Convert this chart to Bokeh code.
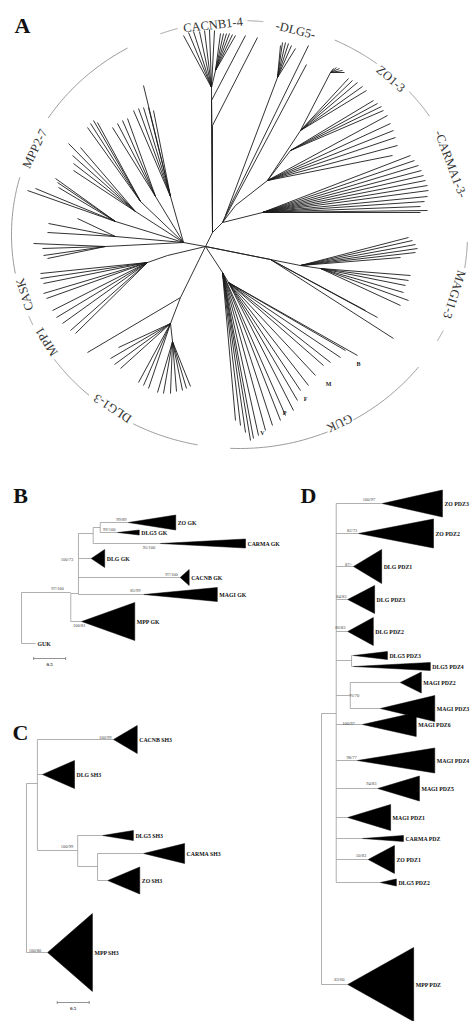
import math
import numpy as np
from bokeh.plotting import figure
from bokeh.models import Range1d
from bokeh.embed import file_html
from bokeh.resources import INLINE
from bokeh.core.properties import value

# ================= DATA =================
# ---- Panel A: unrooted tree, node / tip coordinates in tree-layout units (root = 0,0, y up)
A_node_name = ["root", "stem", "cac", "cac2", "cacs1", "cacs2", "n2", "dlg5a", "dlg5b", "dlg5",
               "zo0", "zo1", "zo2", "zo3", "zoc", "carma", "magi0", "magi1", "magi2",
               "guk0", "guk1", "dlg0", "dlg1", "dlg2", "mpp1", "mpp1b", "mpp0",
               "mppA", "mppB", "mppC", "mppD", "mppE", "mppF", "mppG"]
A_node_parent = [None, "root", "stem", "cac", "stem", "stem", "stem", "n2", "n2", "dlg5a",
                 "n2", "zo0", "zo1", "zo2", "zo1", "n2", "root", "magi0", "root",
                 "root", "guk0", "root", "dlg0", "dlg1", "root", "mpp1", "root",
                 "mpp0", "mpp0", "mpp0", "mpp0", "mpp0", "mpp0", "mpp0"]
A_node_x = [0, 7, 6, 10, 6, 7, 17, 20, 25, 72,
            30, 62, 95, 125, 85, 57, 95, 115, 65,
            17, 23, -25, -35, -33, -38, -58, -22,
            -35, -50, -65, -70, -90, -90, -100]
A_node_y = [0, 14, 159, 176, 146, 121, 24, 31, 39, 169,
            41, 66, 116, 174, 96, 34, -19, -22, -13,
            -26, -36, -51, -77, -95, -9, -16, 4,
            50, 50, 45, 35, 25, 10, 0]

tips_cac = [(-22, 211), (-17, 214), (-12, 215), (-6, 215), (-1, 216), (4, 217), (9, 216)]
tips_cac2 = [(15, 213), (18, 213), (21, 213), (24, 213), (27, 212), (30, 211)]
tips_cacs1 = [(40, 211)]
tips_cacs2 = [(52, 209)]
tips_dlg5 = [(75, 201), (77, 204), (80, 204), (83, 203), (86, 201), (90, 198)]
tips_dlg5a = [(103, 201)]
tips_dlg5b = [(101, 182)]
tips_zo3 = [(128, 178), (131, 179), (134, 178), (137, 176), (139, 174)]
tips_zo2 = [(143, 168), (147, 166), (152, 164), (157, 160), (161, 156)]
tips_zoc = [(168, 146), (172, 143), (176, 140), (178, 136)]
tips_zo1 = [(182, 131), (185, 123), (188, 116), (190, 109), (192, 101), (187, 91)]
tips_carma = [(205, 91), (209, 86), (213, 81), (216, 76), (218, 71), (220, 66), (222, 61),
              (223, 56), (222, 50), (219, 45), (215, 40), (222, 36), (215, 34)]
tips_magi0 = [(203, 9), (207, 6), (210, 2), (212, -2), (210, -6), (195, -11)]
tips_magi1 = [(205, -29), (203, -34), (200, -39), (198, -46), (203, -54), (195, -59)]
tips_magi2 = [(188, -92), (172, -71), (160, -64)]
tips_guk1 = [(152, -109), (140, -104), (135, -111), (125, -116), (118, -119), (110, -129),
             (103, -139), (95, -144), (92, -154), (88, -164)]
tips_guk0 = [(80, -169), (75, -174), (67, -179), (60, -184), (53, -189), (48, -192),
             (45, -194), (40, -186), (35, -179), (30, -174)]
tips_dlg0 = [(-118, -106)]
tips_dlg1 = [(-87, -101), (-95, -112), (-91, -118), (-85, -122), (-67, -136), (-62, -139), (-57, -142)]
tips_dlg2 = [(-48, -146), (-42, -147), (-35, -147), (-29, -145), (-23, -144), (-19, -142), (-15, -140)]
tips_mpp1b = [(-165, -27), (-165, -32), (-162, -37), (-162, -47), (-159, -52), (-153, -64),
              (-149, -71), (-143, -77), (-135, -84), (-130, -87)]
tips_mppA = [(-62, 161), (-72, 136), (-67, 138), (-62, 139), (-57, 139), (-52, 136)]
tips_mppB = [(-93, 119), (-88, 123), (-83, 126), (-78, 128)]
tips_mppC = [(-118, 119), (-115, 123), (-112, 126), (-108, 124)]
tips_mppD = [(-137, 103), (-125, 99), (-133, 91), (-132, 83), (-132, 76)]
tips_mppE = [(-150, 68), (-148, 64), (-147, 59), (-178, 56), (-170, 58)]
tips_mppF = [(-128, 28), (-157, 23), (-158, 14)]
tips_mppG = [(-172, 3), (-163, -2), (-162, -9), (-158, -12)]
A_tip_groups = [("cac", tips_cac), ("cac2", tips_cac2), ("cacs1", tips_cacs1), ("cacs2", tips_cacs2),
                ("dlg5", tips_dlg5), ("dlg5a", tips_dlg5a), ("dlg5b", tips_dlg5b),
                ("zo3", tips_zo3), ("zo2", tips_zo2), ("zoc", tips_zoc), ("zo1", tips_zo1),
                ("carma", tips_carma), ("magi0", tips_magi0), ("magi1", tips_magi1), ("magi2", tips_magi2),
                ("guk1", tips_guk1), ("guk0", tips_guk0), ("dlg0", tips_dlg0), ("dlg1", tips_dlg1),
                ("dlg2", tips_dlg2), ("mpp1b", tips_mpp1b), ("mppA", tips_mppA), ("mppB", tips_mppB),
                ("mppC", tips_mppC), ("mppD", tips_mppD), ("mppE", tips_mppE), ("mppF", tips_mppF),
                ("mppG", tips_mppG)]
A_guk_marks = ["B", "M", "F", "P", "V"]
A_guk_mark_x = [153, 123, 100, 79, 57]
A_guk_mark_y = [-117, -137, -152, -166, -186]

A_labels = ["CACNB1-4", "-DLG5-", "ZO1-3", "-CARMA1-3-", "MAGI1-3", "GUK", "DLG1-3", "MPP1", "CASK", "MPP2-7"]
A_label_deg = [96.8, 75.5, 47.5, 19.5, 343.5, 296.5, 235.5, 210.5, 196.5, 156.0]
A_arc_from = [33.6, 53.0, 84.0, 105.8, 119.4, 164.5, 202.5, 215.7, 242.2, 267.7, 300.0, 330.2, 351.0]
A_arc_to = [41.9, 65.3, 88.0, 110.3, 147.0, 190.5, 205.0, 228.7, 259.4, 292.7, 321.7, 333.3, 358.0]

# ---- Panel B: GK domain tree (branch length units)
B_node_id = ["root", "n1", "n2", "n3", "n4"]
B_node_parent = [None, "root", "n1", "n2", "n3"]
B_node_depth = [0.0, 0.77, 0.89, 1.12, 1.23]
B_node_row = [147, 122, 123, 63, 57]
B_leaf = ["ZO GK", "DLG5 GK", "CARMA GK", "DLG GK", "CACNB GK", "MAGI GK", "MPP GK", "GUK"]
B_leaf_parent = ["n4", "n4", "n3", "n2", "n2", "n2", "n1", "root"]
B_leaf_apex = [1.67, 1.50, 2.17, 1.09, 2.48, 1.91, 0.94, 0.22]
B_leaf_tip = [2.41, 1.84, 3.50, 1.30, 2.62, 3.06, 1.77, 0.22]
B_leaf_row = [52, 62, 73, 88, 107, 124, 151, 173]
B_leaf_half = [7.5, 2.5, 4.5, 9, 8, 7, 19, 0]
B_sup = ["99/89", "99/100", "95/100", "97/100", "85/99", "100/81", "97/100", "100/73"]
B_sup_depth = [1.64, 1.47, 2.09, 2.44, 1.86, 1.0, 0.66, 0.81]
B_sup_row = [49, 59, 77, 104, 120, 155, 118, 89]

# ---- Panel C: SH3 domain tree
C_node_id = ["root", "c1", "c2", "c3"]
C_node_parent = [None, "root", "c1", "c2"]
C_node_depth = [0.0, 0.17, 0.80, 1.11]
C_node_row = [160, 83, 150, 166]
C_leaf = ["CACNB SH3", "DLG SH3", "DLG5 SH3", "CARMA SH3", "ZO SH3", "MPP SH3"]
C_leaf_parent = ["c1", "c1", "c2", "c3", "c3", "root"]
C_leaf_apex = [1.36, 0.25, 1.19, 1.83, 1.27, 0.33]
C_leaf_tip = [1.73, 0.75, 1.67, 2.47, 1.77, 1.03]
C_leaf_row = [39, 74, 135, 153, 180, 252]
C_leaf_half = [14, 14, 5, 10, 13.5, 39]
C_sup = ["100/99", "100/99", "100/80"]
C_sup_depth = [1.33, 0.73, 0.23]
C_sup_row = [37, 146, 250]

# ---- Panel D: PDZ domain tree
D_node_id = ["root", "d1", "d2", "d3"]
D_node_parent = [None, "root", "d1", "d1"]
D_node_depth = [0.0, 0.23, 0.47, 0.45]
D_node_row = [380, 243, 190, 225]
D_leaf = ["ZO PDZ3", "ZO PDZ2", "DLG PDZ1", "DLG PDZ3", "DLG PDZ2", "DLG5 PDZ3", "DLG5 PDZ4",
          "MAGI PDZ2", "MAGI PDZ3", "MAGI PDZ6", "MAGI PDZ4", "MAGI PDZ5", "MAGI PDZ1",
          "CARMA PDZ", "ZO PDZ1", "DLG5 PDZ2", "MPP PDZ"]
D_leaf_parent = ["d1", "d1", "d1", "d1", "d1", "d2", "d2", "d3", "d3", "d1", "d1", "d1", "d1",
                 "d1", "d1", "d1", "root"]
D_leaf_apex = [0.95, 0.58, 0.50, 0.41, 0.41, 0.50, 0.50, 1.23, 0.92, 0.64, 0.56, 0.88, 0.41,
               0.64, 0.73, 0.92, 0.41]
D_leaf_tip = [1.89, 1.75, 0.94, 0.83, 0.81, 1.03, 1.70, 1.56, 1.77, 1.48, 1.77, 1.53, 1.08,
              1.28, 1.14, 1.17, 1.44]
D_leaf_row = [33, 63, 96, 129, 161, 185, 196, 212, 238, 254, 290, 318, 347, 368, 389, 412, 514]
D_leaf_half = [13.5, 14.5, 17, 14, 14, 4, 4, 10.5, 13, 12, 12.5, 12.5, 13, 3, 14, 3.5, 37]
D_sup = ["100/97", "82/72", "87/-", "84/83", "86/83", "76/70", "100/97", "98/77", "94/83", "50/83", "83/60"]
D_sup_depth = [0.84, 0.56, 0.48, 0.39, 0.375, 0.59, 0.52, 0.55, 0.86, 0.70, 0.36]
D_sup_row = [29, 60, 94, 126, 157, 225, 253, 287, 313, 385, 509]

# ================= LAYOUT / STYLE =================
W, H = 471, 1021
SERIF = value("Liberation Serif")
p = figure(width=W, height=H, x_range=Range1d(0, W), y_range=Range1d(-H, 0),
           output_backend="svg", toolbar_location=None, min_border=0,
           x_axis_location=None, y_axis_location=None)
p.grid.visible = False
p.outline_line_color = None

# ---- Panel A
AX0, AY0 = 205, 246          # root position on page
ECX, ECY, ERX, ERY = 239, 234, 228, 214   # label ellipse


def ax(v):
    return AX0 + v


def ay(v):
    return v - AY0


node_pos = {n: (x, y) for n, x, y in zip(A_node_name, A_node_x, A_node_y)}
xs, ys = [], []
for n, par in zip(A_node_name, A_node_parent):
    if par is None:
        continue
    (x1, y1), (x0, y0) = node_pos[n], node_pos[par]
    xs.append([ax(x0), ax(x1)])
    ys.append([ay(y0), ay(y1)])
for par, tips in A_tip_groups:
    x0, y0 = node_pos[par]
    for tx, ty in tips:
        xs.append([ax(x0), ax(tx)])
        ys.append([ay(y0), ay(ty)])
p.multi_line(xs, ys, line_color="#1c1c1c", line_width=0.9)

p.text([ax(v) for v in A_guk_mark_x], [ay(v) for v in A_guk_mark_y], text=A_guk_marks,
       text_font=SERIF, text_font_style="bold", text_font_size="6px", text_color="#222",
       text_align="center", text_baseline="middle")

axs, ays = [], []
for t0, t1 in zip(A_arc_from, A_arc_to):
    t = np.radians(np.linspace(t0, t1, 40))
    axs.append(list(ECX + ERX * np.cos(t)))
    ays.append(list(-(ECY - ERY * np.sin(t))))
p.multi_line(axs, ays, line_color="#9a9a9a", line_width=1)

lx, ly, lang = [], [], []
for d in A_label_deg:
    t = math.radians(d)
    lx.append(ECX + (ERX - 4) * math.cos(t))
    ly.append(-(ECY - (ERY - 3) * math.sin(t)))
    lang.append(math.atan2(-ERY * math.cos(t), ERX * math.sin(t)))
p.text(lx, ly, text=A_labels, angle=lang, text_font=SERIF, text_font_size="12.5px",
       text_color="#333", text_align="center", text_baseline="middle")

# ---- Panels B, C, D (rectangular trees with collapsed clades)
SCALE = 64.0
LINE_C = "#9c9c9c"


def draw_tree(x0, y0, node_id, node_parent, node_depth, node_row,
              leaf, leaf_parent, leaf_apex, leaf_tip, leaf_row, leaf_half,
              sup, sup_depth, sup_row):
    X = lambda d: x0 + d * SCALE
    Yr = lambda r: -(y0 + r)
    depth = dict(zip(node_id, node_depth))
    row = dict(zip(node_id, node_row))
    kids = {n: [] for n in node_id}
    hx, hy = [], []
    for n, par in zip(node_id, node_parent):
        if par is None:
            continue
        kids[par].append(row[n])
        hx.append([X(depth[par]), X(depth[n])])
        hy.append([Yr(row[n]), Yr(row[n])])
    for par, a, r in zip(leaf_parent, leaf_apex, leaf_row):
        kids[par].append(r)
        hx.append([X(depth[par]), X(a)])
        hy.append([Yr(r), Yr(r)])
    for n in node_id:
        if kids[n]:
            hx.append([X(depth[n]), X(depth[n])])
            hy.append([Yr(min(kids[n])), Yr(max(kids[n]))])
    p.multi_line(hx, hy, line_color=LINE_C, line_width=0.8)
    px, py = [], []
    for a, t, r, h in zip(leaf_apex, leaf_tip, leaf_row, leaf_half):
        if h > 0:
            px.append([X(a), X(t), X(t)])
            py.append([Yr(r), Yr(r - h), Yr(r + h)])
    p.patches(px, py, fill_color="black", line_color="black", line_width=0.5)
    p.text([X(t) + 2 for t in leaf_tip], [Yr(r) for r in leaf_row], text=leaf,
           text_font=SERIF, text_font_style="bold", text_font_size="5.8px",
           text_color="#111", text_align="left", text_baseline="middle")
    p.text([X(d) for d in sup_depth], [Yr(r) for r in sup_row], text=sup,
           text_font=SERIF, text_font_size="4.5px", text_color="#444",
           text_align="right", text_baseline="middle")


draw_tree(21, 470, B_node_id, B_node_parent, B_node_depth, B_node_row,
          B_leaf, B_leaf_parent, B_leaf_apex, B_leaf_tip, B_leaf_row, B_leaf_half,
          B_sup, B_sup_depth, B_sup_row)
draw_tree(26, 700, C_node_id, C_node_parent, C_node_depth, C_node_row,
          C_leaf, C_leaf_parent, C_leaf_apex, C_leaf_tip, C_leaf_row, C_leaf_half,
          C_sup, C_sup_depth, C_sup_row)
draw_tree(321, 470, D_node_id, D_node_parent, D_node_depth, D_node_row,
          D_leaf, D_leaf_parent, D_leaf_apex, D_leaf_tip, D_leaf_row, D_leaf_half,
          D_sup, D_sup_depth, D_sup_row)

# scale bars (0.5 branch-length units)
SB_x0 = [21 + 0.19 * SCALE, 26 + 0.48 * SCALE]
SB_y = [-(470 + 188), -(700 + 302)]
for x0, y in zip(SB_x0, SB_y):
    x1 = x0 + 0.5 * SCALE
    p.multi_line([[x0, x1], [x0, x0], [x1, x1]], [[y, y], [y - 1.5, y + 1.5], [y - 1.5, y + 1.5]],
                 line_color="#777", line_width=0.8)
    p.text([(x0 + x1) / 2], [y - 6], text=["0.5"], text_font=SERIF, text_font_style="bold",
           text_font_size="5px", text_color="#333", text_align="center", text_baseline="middle")

# panel letters
p.text([22, 20, 20, 308], [-25, -495, -732, -495], text=["A", "B", "C", "D"],
       text_font=SERIF, text_font_style="bold", text_font_size="22px", text_color="#111",
       text_align="center", text_baseline="middle")

open("out.html", "w").write(file_html(p, INLINE))
